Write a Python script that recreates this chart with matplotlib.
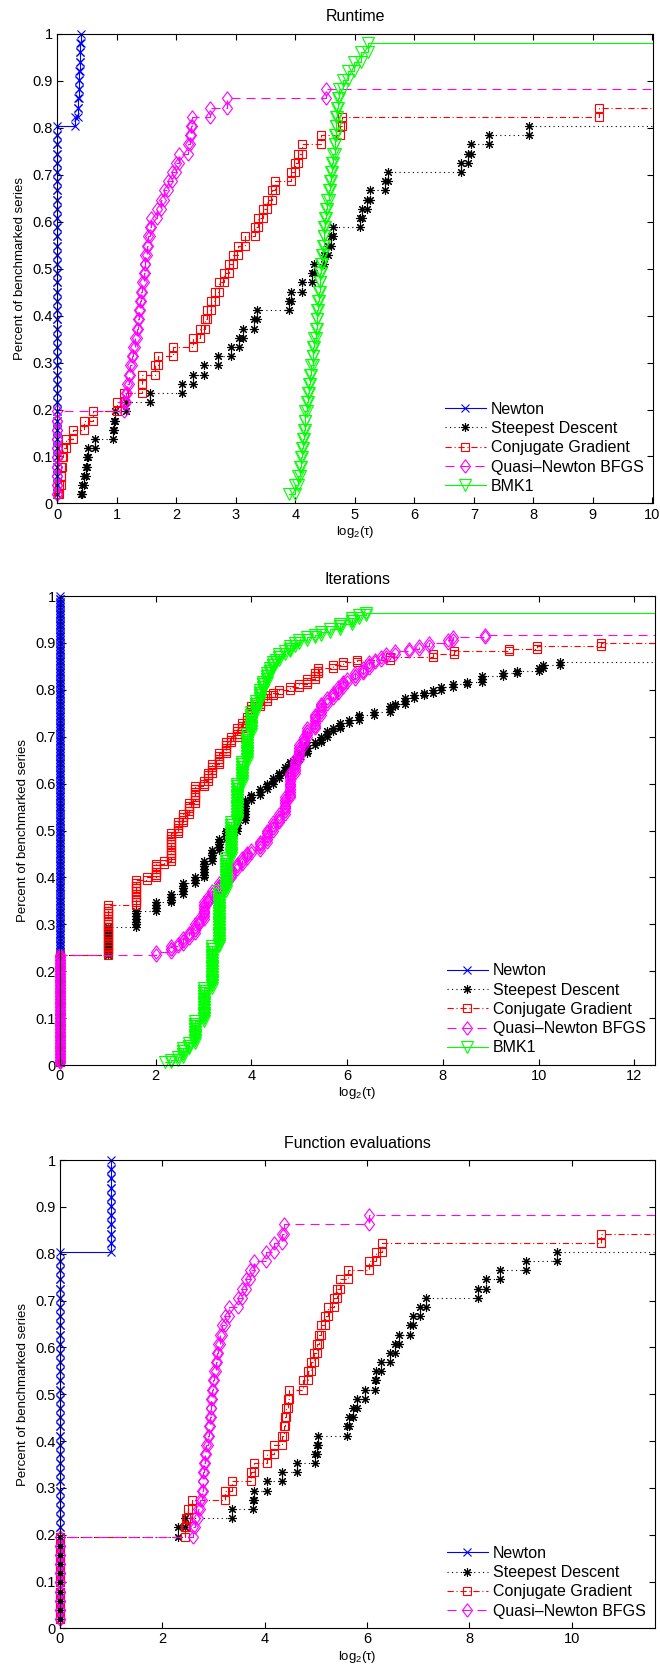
import numpy as np
import matplotlib
matplotlib.use('Agg')
import matplotlib.pyplot as plt
from matplotlib.lines import Line2D

plt.rcParams['font.family'] = ['Liberation Sans', 'DejaVu Sans']
plt.rcParams['mathtext.fontset'] = 'custom'
plt.rcParams['mathtext.rm'] = 'Liberation Sans'
plt.rcParams['mathtext.it'] = 'Liberation Sans:italic'
plt.rcParams['lines.scale_dashes'] = False

solvers = ['Newton', 'Steepest Descent', 'Conjugate Gradient',
           'Quasi\u2013Newton BFGS', 'BMK1']

# ---- Runtime: log2 performance ratios, 51 problems (failures are left out)
rt_problems = 51
rt_newton = [0.0] * 41 + [0.30, 0.34, 0.35, 0.36, 0.37, 0.37, 0.38, 0.39, 0.39, 0.40]
rt_sd = [0.40, 0.42, 0.45, 0.48, 0.50, 0.52, 0.63, 0.93, 0.95, 0.97, 1.15, 1.56,
         2.09, 2.28, 2.46, 2.70, 2.92, 3.05, 3.12, 3.30, 3.35, 3.89, 3.92, 4.12,
         4.28, 4.32, 4.48, 4.55, 4.60, 4.63, 5.09, 5.12, 5.20, 5.25, 5.50, 5.55,
         6.78, 6.90, 6.95, 7.25, 7.93]
rt_cg = [0.02, 0.03, 0.06, 0.07, 0.08, 0.10, 0.14, 0.27, 0.45, 0.60, 1.00, 1.12,
         1.42, 1.43, 1.65, 1.70, 1.95, 2.28, 2.40, 2.48, 2.52, 2.58, 2.65, 2.72,
         2.80, 2.88, 2.95, 3.03, 3.15, 3.33, 3.38, 3.45, 3.52, 3.60, 3.65, 3.93,
         4.00, 4.05, 4.12, 4.43, 4.75, 4.78, 9.10]
rt_bfgs = [0.0] * 10 + [1.12, 1.15, 1.17, 1.20, 1.23, 1.26, 1.28, 1.31, 1.34, 1.36,
                        1.38, 1.39, 1.41, 1.42, 1.45, 1.47, 1.48, 1.50, 1.53, 1.55,
                        1.58, 1.67, 1.74, 1.80, 1.86, 1.93, 2.00, 2.05, 2.20, 2.23,
                        2.25, 2.27, 2.56, 2.86, 4.51]
rt_bmk1 = [3.90, 4.00, 4.05, 4.07, 4.09, 4.11, 4.13, 4.14, 4.16, 4.17, 4.19, 4.21,
           4.23, 4.25, 4.27, 4.29, 4.30, 4.32, 4.34, 4.36, 4.37, 4.38, 4.40, 4.41,
           4.42, 4.43, 4.45, 4.46, 4.48, 4.49, 4.50, 4.52, 4.54, 4.56, 4.58, 4.60,
           4.62, 4.64, 4.66, 4.67, 4.68, 4.69, 4.70, 4.72, 4.74, 4.80, 4.88, 4.98,
           5.10, 5.22]

# ---- Iterations: distinct log2 ratios and how many problems share each one
it_problems = 170
it_newton_x = [0.0]
it_newton_n = [170]
it_sd_x = [0.0, 1.0, 1.58, 2.0, 2.32, 2.58, 2.81, 3.0, 3.17, 3.32, 3.46, 3.7, 3.86,
           4.0, 4.17, 4.32, 4.46, 4.58, 4.7, 4.81, 4.91, 5.0, 5.17, 5.32, 5.46,
           5.58, 5.7, 5.85, 6.04, 6.25, 6.55, 6.9, 7.0, 7.2, 7.4, 7.6, 7.8, 7.95,
           8.2, 8.5, 8.82, 9.25, 9.55, 10.0, 10.1, 10.45]
it_sd_n = [40, 10, 6, 3, 3, 4, 2, 6, 4, 4, 3, 4, 7, 2, 2, 2, 2, 2, 2, 2, 1, 2, 3, 1,
           2, 2, 1, 2, 1, 2, 1, 2, 1, 2, 1, 1, 1, 1, 1, 1, 2, 1, 1, 1, 1, 1]
it_cg_x = [0.0, 1.0, 1.58, 1.81, 2.0, 2.17, 2.32, 2.46, 2.58, 2.7, 2.81, 3.0, 3.1,
           3.17, 3.32, 3.46, 3.58, 3.7, 3.81, 3.91, 4.0, 4.17, 4.32, 4.46, 4.58,
           4.81, 5.0, 5.17, 5.32, 5.39, 5.7, 5.91, 6.2, 6.9, 7.8, 8.24, 9.39, 9.97,
           11.3]
it_cg_n = [40, 18, 9, 1, 5, 1, 10, 4, 3, 4, 6, 2, 3, 3, 4, 4, 2, 3, 2, 2, 4, 2, 2,
           1, 1, 1, 1, 2, 2, 2, 1, 1, 1, 1, 1, 1, 1, 1, 1]
it_bfgs_x = [0.0, 2.0, 2.32, 2.46, 2.58, 2.7, 2.81, 2.9, 3.0, 3.1, 3.17, 3.32, 3.46,
             3.58, 3.7, 3.81, 3.91, 4.0, 4.17, 4.32, 4.46, 4.58, 4.7, 4.81, 4.91,
             5.0, 5.09, 5.17, 5.32, 5.46, 5.58, 5.7, 5.81, 5.91, 6.0, 6.17, 6.32,
             6.46, 6.58, 6.7, 6.81, 7.0, 7.3, 7.5, 7.7, 8.1, 8.2, 8.87]
it_bfgs_n = [40, 1, 2, 1, 2, 2, 3, 2, 6, 2, 2, 3, 2, 3, 2, 2, 2, 1, 3, 4, 3, 3, 6,
             9, 5, 5, 3, 3, 5, 4, 2, 2, 2, 2, 1, 2, 2, 2, 1, 1, 1, 1, 1, 1, 1, 1,
             1, 1]
it_bmk1_x = [2.2, 2.32, 2.46, 2.58, 2.7, 2.81, 3.0, 3.17, 3.32, 3.46, 3.58, 3.7,
             3.81, 3.91, 4.0, 4.09, 4.17, 4.25, 4.32, 4.39, 4.46, 4.52, 4.58, 4.7,
             4.81, 4.91, 5.0, 5.17, 5.32, 5.46, 5.64, 5.85, 6.1, 6.25, 6.4]
it_bmk1_n = [1, 1, 1, 3, 2, 8, 12, 15, 20, 12, 13, 14, 8, 10, 8, 4, 4, 3, 3, 2, 2,
             1, 2, 1, 2, 1, 1, 1, 1, 1, 1, 2, 2, 1, 1]

# ---- Function evaluations: 51 problems, no BMK1
fe_problems = 51
fe_newton = [0.0] * 41 + [1.0] * 10
fe_sd = [0.0] * 10 + [2.31, 2.45, 3.36, 3.78, 3.80, 4.04, 4.34, 4.64, 4.98, 5.02,
                      5.05, 5.60, 5.65, 5.72, 5.80, 5.97, 6.15, 6.18, 6.27, 6.45,
                      6.55, 6.63, 6.83, 6.90, 7.03, 7.16, 8.17, 8.33, 8.60, 9.10,
                      9.71]
fe_cg = [0.0] * 10 + [2.45, 2.47, 2.50, 2.57, 3.22, 3.36, 3.74, 3.80, 4.05, 4.18,
                      4.33, 4.38, 4.40, 4.42, 4.45, 4.47, 4.75, 4.85, 4.90, 4.97,
                      5.02, 5.06, 5.10, 5.18, 5.24, 5.36, 5.42, 5.48, 5.63, 6.03,
                      6.17, 6.30, 10.57]
fe_bfgs = [0.0] * 10 + [2.60, 2.64, 2.69, 2.74, 2.77, 2.79, 2.80, 2.81, 2.83, 2.86,
                        2.89, 2.92, 2.93, 2.95, 2.96, 2.97, 2.99, 3.01, 3.04, 3.06,
                        3.08, 3.12, 3.17, 3.22, 3.30, 3.48, 3.56, 3.63, 3.72, 3.80,
                        4.02, 4.18, 4.33, 4.38, 6.03]

diamond = [(0, -1), (0.75, 0), (0, 1), (-0.75, 0), (0, -1)]
styles = [
    dict(color='#0000ff', ls='-', marker='x', ms=5.5),
    dict(color='#000000', ls=(0, (0.8, 2.4)), marker=(8, 2, 0), ms=6.5),
    dict(color='#ff0000', ls=(0, (4.5, 2.0, 0.8, 2.0)), marker='s', ms=5.8),
    dict(color='#ff00ff', ls=(0, (6.5, 4.3)), marker=diamond, ms=9.6),
    dict(color='#00ff00', ls='-', marker='v', ms=8),
]


def stair_points(ratios, n_prob, fail):
    # MATLAB stairs() vertices of the profile, unsolved problems sit at 'fail'
    r = np.sort(np.concatenate([np.asarray(ratios, float),
                                np.full(n_prob - len(ratios), fail)]))
    y = np.arange(1, n_prob + 1) / n_prob
    return np.repeat(r, 2)[1:], np.repeat(y, 2)[:-1]


def draw(ax, title, data, n_prob, xstep):
    max_ratio = max(np.max(d) for d in data)
    fail = 2 * max_ratio
    xmax = 1.1 * max_ratio
    handles = []
    for d, name, st in zip(data, solvers, styles):
        xs, ys = stair_points(d, n_prob, fail)
        ax.plot(xs, ys, color=st['color'], ls=st['ls'], lw=0.8)
        keep = xs <= xmax
        ax.plot(xs[keep], ys[keep], ls='none', marker=st['marker'], ms=st['ms'],
                mec=st['color'], mfc='none', mew=0.8, clip_on=False)
        handles.append(Line2D([], [], color=st['color'], ls=st['ls'], lw=0.8,
                              marker=st['marker'], ms=st['ms'], mec=st['color'],
                              mfc='none', mew=0.8, label=name))
    ax.set_xlim(0, xmax)
    ax.set_ylim(0, 1)
    xt = np.arange(0, xmax + 1e-9, xstep)
    ax.set_xticks(xt)
    ax.set_xticklabels(['%d' % v for v in xt])
    yt = np.arange(0, 11) / 10
    ax.set_yticks(yt)
    ax.set_yticklabels(['0'] + ['%.1f' % v for v in yt[1:-1]] + ['1'])
    ax.tick_params(direction='in', top=True, right=True, length=4.3, width=0.8,
                   labelsize=10.5, pad=3)
    for s in ax.spines.values():
        s.set_linewidth(0.8)
    ax.set_title(title, fontsize=11.5, pad=9)
    ax.set_xlabel('log$_2$(\u03c4)', fontsize=9.5, labelpad=1.5)
    ax.set_ylabel('Percent of benchmarked series', fontsize=9.5, labelpad=5)
    ax.legend(handles=handles, loc='lower right', bbox_to_anchor=(1.0, 0.0),
              frameon=False, fontsize=11.5, handlelength=2.55, handletextpad=0.3,
              labelspacing=0.27, borderaxespad=0.2, numpoints=1)


fig = plt.figure(figsize=(6.6, 16.73), dpi=100)
ax1 = fig.add_axes([0.0868, 0.6991, 0.9026, 0.2806])
ax2 = fig.add_axes([0.0909, 0.3634, 0.9015, 0.2803])
ax3 = fig.add_axes([0.0909, 0.0267, 0.9015, 0.2799])

draw(ax1, 'Runtime', [rt_newton, rt_sd, rt_cg, rt_bfgs, rt_bmk1], rt_problems, 1)

it_data = [np.repeat(it_newton_x, it_newton_n), np.repeat(it_sd_x, it_sd_n),
           np.repeat(it_cg_x, it_cg_n), np.repeat(it_bfgs_x, it_bfgs_n),
           np.repeat(it_bmk1_x, it_bmk1_n)]
draw(ax2, 'Iterations', it_data, it_problems, 2)

draw(ax3, 'Function evaluations', [fe_newton, fe_sd, fe_cg, fe_bfgs], fe_problems, 2)

fig.savefig('out.png', dpi=100)
